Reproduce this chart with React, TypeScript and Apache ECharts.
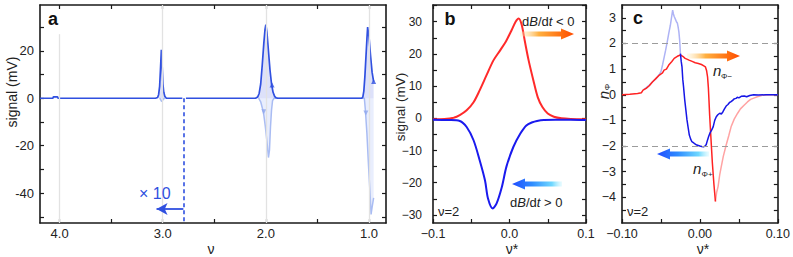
import React, { useEffect, useRef } from 'react';
import * as echarts from 'echarts';

// ---------- Panel a data (ν, signal in mV) ----------
const aUpLeftNu = [4.19, 4.065, 4.06, 4.02, 4.015, 3.07, 3.05, 3.04, 3.03, 3.022, 3.013, 3.005, 2.998, 2.99, 2.98, 2.965, 2.81];
const aUpLeftSig = [0, 0, 0.6, 0.6, 0, 0, 0.3, 1.5, 5, 12, 20.4, 13, 6, 2.5, 0.8, 0, 0];
const aUpRightNu = [2.775, 2.1, 2.08, 2.065, 2.05, 2.035, 2.02, 2.008, 2.0, 1.99, 1.975, 1.96, 1.945, 1.93, 1.915, 1.9, 1.885, 1.07, 1.06, 1.05, 1.04, 1.03, 1.02, 1.013, 1.0, 0.985, 0.97, 0.955];
const aUpRightSig = [0, 0, 0.5, 2, 6, 14, 23, 29, 31, 28, 20, 12, 6, 2.5, 0.8, 0.2, 0, 0, 0.5, 3, 9, 17, 25, 30, 26, 18, 11, 7];
const aLowLeftNu = [3.03, 3.02, 3.01, 3.0, 2.99, 2.98];
const aLowLeftSig = [0, -0.6, -1.4, -0.8, -0.2, 0];
const aLowRightNu = [2.07, 2.05, 2.035, 2.02, 2.005, 1.99, 1.975, 1.965, 1.955, 1.945, 1.935, 1.92, 1.045, 1.035, 1.02, 1.005, 0.99, 0.98, 0.97, 0.955];
const aLowRightSig = [0, -1.5, -4, -7, -12, -18, -25, -22, -12, -5, -1, 0, 0, -5, -15, -28, -40, -49, -46, -42];
const aMarkUp = [[1.94, 5.6], [0.955, 7]];
const aMarkDown = [[2.02, -5.7], [1.03, -6.2]];
const aGuideNu = [4, 3, 2, 1];
const aGuideTop4 = 27;
const aScaleBreakNu = 2.8;
const aArrowY = -46.7;
const aArrowEndNu = 3.06;

// ---------- Panel b data (ν*, signal in mV) ----------
const bRedNu = [-0.1, -0.085, -0.073, -0.065, -0.056, -0.047, -0.039, -0.03, -0.021, -0.012, -0.004, 0.003, 0.008, 0.012, 0.016, 0.02, 0.025, 0.031, 0.037, 0.043, 0.05, 0.058, 0.068, 0.08, 0.1];
const bRedSig = [-0.3, -0.2, 0.2, 1.0, 2.5, 5, 8.7, 13.4, 18, 21.2, 24.2, 27.5, 30.0, 31, 29, 24, 18, 12, 6.5, 3.5, 1.5, 0.5, 0.0, -0.2, -0.3];
const bBlueNu = [-0.1, -0.08, -0.065, -0.056, -0.047, -0.039, -0.032, -0.028, -0.022, -0.017, -0.01, -0.004, 0.005, 0.014, 0.022, 0.03, 0.036, 0.045, 0.06, 0.08, 0.1];
const bBlueSig = [-0.4, -0.5, -0.8, -2.7, -6.8, -13, -19.3, -25, -28, -26.5, -21.3, -15, -8.9, -4.8, -2.2, -1.2, -0.8, -0.5, -0.4, -0.4, -0.5];

// ---------- Panel c data (ν*, n_Φ) ----------
const cRedNu = [-0.1, -0.09, -0.08, -0.075, -0.073, -0.069, -0.065, -0.061, -0.056, -0.052, -0.048, -0.046, -0.043, -0.04, -0.036, -0.033, -0.029, -0.025, -0.022, -0.019, -0.016, -0.014, -0.01, -0.006, -0.002, 0.002, 0.005, 0.007, 0.0085, 0.0098, 0.0108, 0.0116, 0.0125, 0.0136, 0.016, 0.018, 0.0199];
const cRedN = [0, 0.02, 0.05, 0.08, 0.18, 0.25, 0.35, 0.5, 0.65, 0.77, 0.85, 0.96, 1.0, 1.16, 1.3, 1.42, 1.5, 1.55, 1.5, 1.42, 1.38, 1.35, 1.3, 1.25, 1.22, 1.18, 1.13, 1.09, 0.95, 0.7, 0.3, -0.2, -0.8, -1.4, -2.67, -3.5, -4.16];
const cRedLightNu = [0.0199, 0.0215, 0.0233, 0.0255, 0.0274, 0.03, 0.0337, 0.037, 0.04, 0.044, 0.0484, 0.052, 0.057, 0.061, 0.065, 0.07, 0.0736, 0.08, 0.1];
const cRedLightN = [-4.16, -3.8, -3.58, -3.1, -2.8, -2.4, -1.96, -1.6, -1.25, -0.95, -0.72, -0.55, -0.4, -0.28, -0.18, -0.12, -0.08, -0.02, 0];
const cBlueLightNu = [-0.072, -0.068, -0.065, -0.061, -0.056, -0.052, -0.05, -0.048, -0.046, -0.044, -0.042, -0.04, -0.038, -0.037, -0.036, -0.035, -0.034, -0.033, -0.0315, -0.03, -0.029, -0.028, -0.027, -0.026, -0.025];
const cBlueLightN = [0.2, 0.3, 0.38, 0.5, 0.64, 0.8, 0.9, 1.16, 1.45, 1.74, 2.05, 2.39, 2.7, 2.9, 3.1, 3.3, 3.15, 3.05, 2.95, 2.84, 2.8, 2.65, 2.45, 2.13, 1.61];
const cBlueNu = [-0.025, -0.024, -0.023, -0.022, -0.021, -0.0195, -0.018, -0.0166, -0.015, -0.0136, -0.012, -0.0103, -0.008, -0.006, -0.004, -0.002, 0.0, 0.0023, 0.0045, 0.0065, 0.008, 0.0098, 0.0113, 0.0128, 0.015, 0.017, 0.019, 0.021, 0.023, 0.0254, 0.0275, 0.0296, 0.0315, 0.0337, 0.036, 0.038, 0.04, 0.042, 0.044, 0.0463, 0.048, 0.05, 0.053, 0.057, 0.06, 0.064, 0.069, 0.075, 0.085, 0.1];
const cBlueN = [1.61, 1.3, 1.09, 0.6, 0.31, -0.2, -0.6, -0.98, -1.3, -1.57, -1.72, -1.83, -1.88, -1.92, -1.96, -1.98, -2.0, -2.02, -2.03, -2.0, -1.95, -1.76, -1.62, -1.5, -1.38, -1.25, -1.0, -0.86, -0.78, -0.72, -0.75, -0.66, -0.55, -0.44, -0.38, -0.3, -0.27, -0.22, -0.16, -0.14, -0.1, -0.12, -0.06, -0.05, -0.08, -0.03, 0, -0.01, 0, 0];
const cGuideN = [2, -2];

// ---------- Axes ticks / labels ----------
const aXTicks = [1, 1.5, 2, 2.5, 3, 3.5, 4];
const aXLabels = [1, 2, 3, 4];
const aYTicks = [-50, -40, -30, -20, -10, 0, 10, 20, 30];
const aYLabels = [-40, -20, 0, 20];
const bXTicks = [-0.1, -0.05, 0, 0.05, 0.1];
const bXLabels = [-0.1, 0, 0.1];
const bYTicks = [-30, -25, -20, -15, -10, -5, 0, 5, 10, 15, 20, 25, 30, 35];
const bYLabels = [-30, -20, -10, 0, 10, 20, 30];
const cXTicks = [-0.1, -0.05, 0, 0.05, 0.1];
const cXLabels = [-0.1, 0, 0.1];
const cYTicks = [-4.5, -4, -3.5, -3, -2.5, -2, -1.5, -1, -0.5, 0, 0.5, 1, 1.5, 2, 2.5, 3];
const cYLabels = [-4, -3, -2, -1, 0, 1, 2, 3];

const A_X = [0.835, 4.19];
const A_Y = [-52.6, 39.3];
const B_X = [-0.1, 0.1];
const B_Y = [-32.5, 35.2];
const C_X = [-0.1, 0.1];
const C_Y = [-5.0, 3.5];

const FONT = "'Liberation Sans', Arial, sans-serif";
const INK = '#1a1a1a';
const A_BLUE = '#3050E0';
const A_LIGHT = '#A9BCF3';

const pts = (xs: number[], ys: number[]) => xs.map((x, i) => [x, ys[i]]);
const minusFmt = (digits: number) => (v: number) => {
  const s = Math.abs(v).toFixed(digits);
  return v < -1e-9 ? '\u2212' + s : s;
};

function mkAxis(
  grid: number,
  position: string,
  range: number[],
  ticks: number[],
  labels: number[] | null,
  fmt: (v: number) => string,
  fontSize: number,
  margin: number,
  inverse = false
) {
  return {
    type: 'value',
    gridIndex: grid,
    position,
    min: range[0],
    max: range[1],
    inverse,
    splitLine: { show: false },
    axisLine: { show: true, onZero: false, lineStyle: { color: INK, width: 1.6 } },
    axisTick: { show: true, inside: true, length: 4, customValues: ticks, lineStyle: { color: INK, width: 1.2 } },
    axisLabel: labels
      ? { show: true, customValues: labels, formatter: fmt, fontSize, fontFamily: FONT, color: '#222', margin }
      : { show: false },
  };
}

function arrowPoints(xTail: number, xHead: number, yc: number, shaftHalf: number, headLen: number, headHalf: number) {
  const dir = Math.sign(xHead - xTail);
  const xb = xHead - dir * headLen;
  return [
    [xTail, yc - shaftHalf],
    [xb, yc - shaftHalf],
    [xb, yc - headHalf],
    [xHead, yc],
    [xb, yc + headHalf],
    [xb, yc + shaftHalf],
    [xTail, yc + shaftHalf],
  ];
}

function buildOption() {
  const orangeGrad = () =>
    new echarts.graphic.LinearGradient(0, 0, 1, 0, [
      { offset: 0, color: 'rgba(255,235,190,0.25)' },
      { offset: 0.35, color: '#FFB040' },
      { offset: 0.75, color: '#FF7212' },
      { offset: 1, color: '#FF4A00' },
    ]);
  const blueGrad = () =>
    new echarts.graphic.LinearGradient(0, 0, 1, 0, [
      { offset: 0, color: '#1F4BFF' },
      { offset: 0.4, color: '#2F8CFF' },
      { offset: 0.8, color: '#70D8FF' },
      { offset: 1, color: 'rgba(170,240,255,0.25)' },
    ]);

  const text = (x: number, y: number, t: string, font: string, opts: any = {}) => ({
    type: 'text',
    x,
    y,
    rotation: opts.rotation || 0,
    z: 100,
    style: {
      text: t,
      font,
      fill: opts.fill || '#222',
      align: opts.align || 'center',
      verticalAlign: 'middle',
    },
  });

  const richLabel = (x: number, y: number, op: string) => ({
    type: 'text',
    x,
    y,
    z: 100,
    style: {
      text: `{n|d}{i|B}{n|/d}{i|t}{n| ${op} 0}`,
      align: 'left',
      verticalAlign: 'middle',
      rich: {
        n: { fontSize: 13, fontFamily: FONT, fill: '#222' },
        i: { fontSize: 13, fontFamily: FONT, fontStyle: 'italic', fill: '#222' },
      },
    },
  });

  const lineSeries = (name: string, xAxisIndex: number, yAxisIndex: number, data: number[][], color: string, width: number, z: number, extra: any = {}) => ({
    name,
    type: 'line',
    xAxisIndex,
    yAxisIndex,
    data,
    symbol: 'none',
    showSymbol: false,
    smooth: false,
    z,
    lineStyle: { color, width },
    itemStyle: { color },
    ...extra,
  });

  return {
    animation: false,
    backgroundColor: '#ffffff',
    grid: [
      { left: 40, top: 5, width: 346, height: 218 },
      { left: 433, top: 5, width: 153, height: 218 },
      { left: 622, top: 5, width: 159, height: 218 },
    ],
    xAxis: [
      mkAxis(0, 'bottom', A_X, aXTicks, aXLabels, (v: number) => v.toFixed(1), 13, 4, true),
      mkAxis(0, 'top', A_X, aXTicks, null, String, 13, 4, true),
      mkAxis(1, 'bottom', B_X, bXTicks, bXLabels, minusFmt(1), 12.5, 4),
      mkAxis(1, 'top', B_X, bXTicks, null, String, 12, 4),
      mkAxis(2, 'bottom', C_X, cXTicks, cXLabels, minusFmt(2), 12.5, 4),
      mkAxis(2, 'top', C_X, cXTicks, null, String, 12, 4),
    ],
    yAxis: [
      mkAxis(0, 'left', A_Y, aYTicks, aYLabels, (v: number) => String(v), 13, 6),
      mkAxis(0, 'right', A_Y, aYTicks, null, String, 13, 6),
      mkAxis(1, 'left', B_Y, bYTicks, bYLabels, minusFmt(0), 12, 11),
      mkAxis(1, 'right', B_Y, bYTicks, null, String, 12, 6),
      mkAxis(2, 'left', C_Y, cYTicks, cYLabels, minusFmt(0), 12.5, 6),
      mkAxis(2, 'right', C_Y, cYTicks, null, String, 12, 6),
    ],
    series: [
      // gray guide lines in panel a
      {
        type: 'line',
        xAxisIndex: 0,
        yAxisIndex: 0,
        data: [],
        z: 1,
        markLine: {
          silent: true,
          symbol: ['none', 'none'],
          label: { show: false },
          lineStyle: { color: '#e2e2e2', width: 1.3, type: 'solid' },
          data: [
            [{ coord: [aGuideNu[0], aGuideTop4] }, { coord: [aGuideNu[0], A_Y[0]] }],
            ...aGuideNu.slice(1).map((v) => ({ xAxis: v })),
          ],
        },
      },
      lineSeries('aLowLeft', 0, 0, pts(aLowLeftNu, aLowLeftSig), A_LIGHT, 1.5, 2, { areaStyle: { color: 'rgba(165,185,245,0.35)' } }),
      lineSeries('aLowRight', 0, 0, pts(aLowRightNu, aLowRightSig), A_LIGHT, 1.5, 2, { areaStyle: { color: 'rgba(165,185,245,0.35)' } }),
      lineSeries('aUpLeft', 0, 0, pts(aUpLeftNu, aUpLeftSig), A_BLUE, 1.7, 3, {
        areaStyle: { color: 'rgba(60,85,225,0.25)' },
        markLine: {
          silent: true,
          symbol: ['none', 'none'],
          label: { show: false },
          lineStyle: { color: A_BLUE, width: 1.6, type: [4, 3] },
          data: [[{ coord: [aScaleBreakNu, 0] }, { coord: [aScaleBreakNu, A_Y[0]] }]],
        },
      }),
      lineSeries('aUpRight', 0, 0, pts(aUpRightNu, aUpRightSig), A_BLUE, 1.7, 3, {
        areaStyle: { color: 'rgba(60,85,225,0.25)' },
        markLine: {
          silent: true,
          symbol: ['none', 'arrow'],
          symbolSize: [9, 11],
          label: { show: false },
          lineStyle: { color: A_BLUE, width: 1.8, type: 'solid' },
          data: [[{ coord: [aScaleBreakNu, aArrowY] }, { coord: [aArrowEndNu, aArrowY] }]],
        },
      }),
      {
        type: 'scatter',
        xAxisIndex: 0,
        yAxisIndex: 0,
        data: aMarkUp,
        symbol: 'triangle',
        symbolSize: 5,
        itemStyle: { color: A_BLUE },
        z: 4,
      },
      {
        type: 'scatter',
        xAxisIndex: 0,
        yAxisIndex: 0,
        data: aMarkDown,
        symbol: 'triangle',
        symbolRotate: 180,
        symbolSize: 5,
        itemStyle: { color: '#8FA6EE' },
        z: 4,
      },
      // panel b
      lineSeries('bRed', 2, 2, pts(bRedNu, bRedSig), '#FF2A2A', 2, 3, { smooth: 0.3 }),
      lineSeries('bBlue', 2, 2, pts(bBlueNu, bBlueSig), '#1A1AEE', 2, 3, { smooth: 0.3 }),
      // panel c
      lineSeries('cRedLight', 4, 4, pts(cRedLightNu, cRedLightN), '#FFA3A3', 1.5, 2),
      lineSeries('cBlueLight', 4, 4, pts(cBlueLightNu, cBlueLightN), '#AEB3F5', 1.5, 2),
      lineSeries('cRed', 4, 4, pts(cRedNu, cRedN), '#FF2222', 1.5, 3, {
        markLine: {
          silent: true,
          symbol: ['none', 'none'],
          label: { show: false },
          lineStyle: { color: '#9c9c9c', width: 1, type: [6, 4] },
          data: cGuideN.map((v) => ({ yAxis: v })),
        },
      }),
      lineSeries('cBlue', 4, 4, pts(cBlueNu, cBlueN), '#1616E6', 1.5, 3),
    ],
    graphic: [
      // panel letters
      text(53, 19, 'a', `bold 18px ${FONT}`, { fill: '#111' }),
      text(450, 19, 'b', `bold 18px ${FONT}`, { fill: '#111' }),
      text(638, 18, 'c', `bold 18px ${FONT}`, { fill: '#111' }),
      // axis titles
      text(12, 92, 'signal (mV)', `14px ${FONT}`, { rotation: Math.PI / 2 }),
      text(400, 107, 'signal (mV)', `13.5px ${FONT}`, { rotation: Math.PI / 2 }),
      text(603, 95, 'n', `italic 15px ${FONT}`, { rotation: Math.PI / 2 }),
      text(607, 87, '\u03A6', `8px ${FONT}`, { rotation: Math.PI / 2 }),
      text(211, 249, '\u03BD', `14px ${FONT}`),
      text(512, 249, '\u03BD*', `14px ${FONT}`),
      text(703, 249, '\u03BD*', `14px ${FONT}`),
      // annotations
      text(139, 193, '\u00D7 10', `16px ${FONT}`, { fill: A_BLUE, align: 'left' }),
      text(438, 211, '\u03BD=2', `13px ${FONT}`, { align: 'left' }),
      text(627, 211, '\u03BD=2', `13px ${FONT}`, { align: 'left' }),
      richLabel(522, 21, '<'),
      richLabel(510, 202, '>'),
      text(713, 70, 'n', `italic 15px ${FONT}`, { align: 'left' }),
      text(721, 76, '\u03A6\u2212', `8px ${FONT}`, { align: 'left' }),
      text(693, 168, 'n', `italic 15px ${FONT}`, { align: 'left' }),
      text(701.5, 174, '\u03A6+', `8px ${FONT}`, { align: 'left' }),
      // gradient arrows
      { type: 'polygon', z: 90, shape: { points: arrowPoints(520, 574, 34, 2.6, 13, 5.5) }, style: { fill: orangeGrad() } },
      { type: 'polygon', z: 90, shape: { points: arrowPoints(562, 512, 184, 2.6, 13, 5.5) }, style: { fill: blueGrad() } },
      { type: 'polygon', z: 90, shape: { points: arrowPoints(687, 740, 56, 2.6, 13, 5.5) }, style: { fill: orangeGrad() } },
      { type: 'polygon', z: 90, shape: { points: arrowPoints(709, 657, 154, 2.6, 13, 5.5) }, style: { fill: blueGrad() } },
    ],
  };
}

export default function App() {
  const ref = useRef<HTMLDivElement>(null);
  useEffect(() => {
    document.body.style.margin = '0';
    const chart = echarts.init(ref.current as HTMLDivElement, null, { renderer: 'svg' });
    chart.setOption(buildOption() as any);
    return () => chart.dispose();
  }, []);
  return <div ref={ref} style={{ width: 793, height: 257 }} />;
}
